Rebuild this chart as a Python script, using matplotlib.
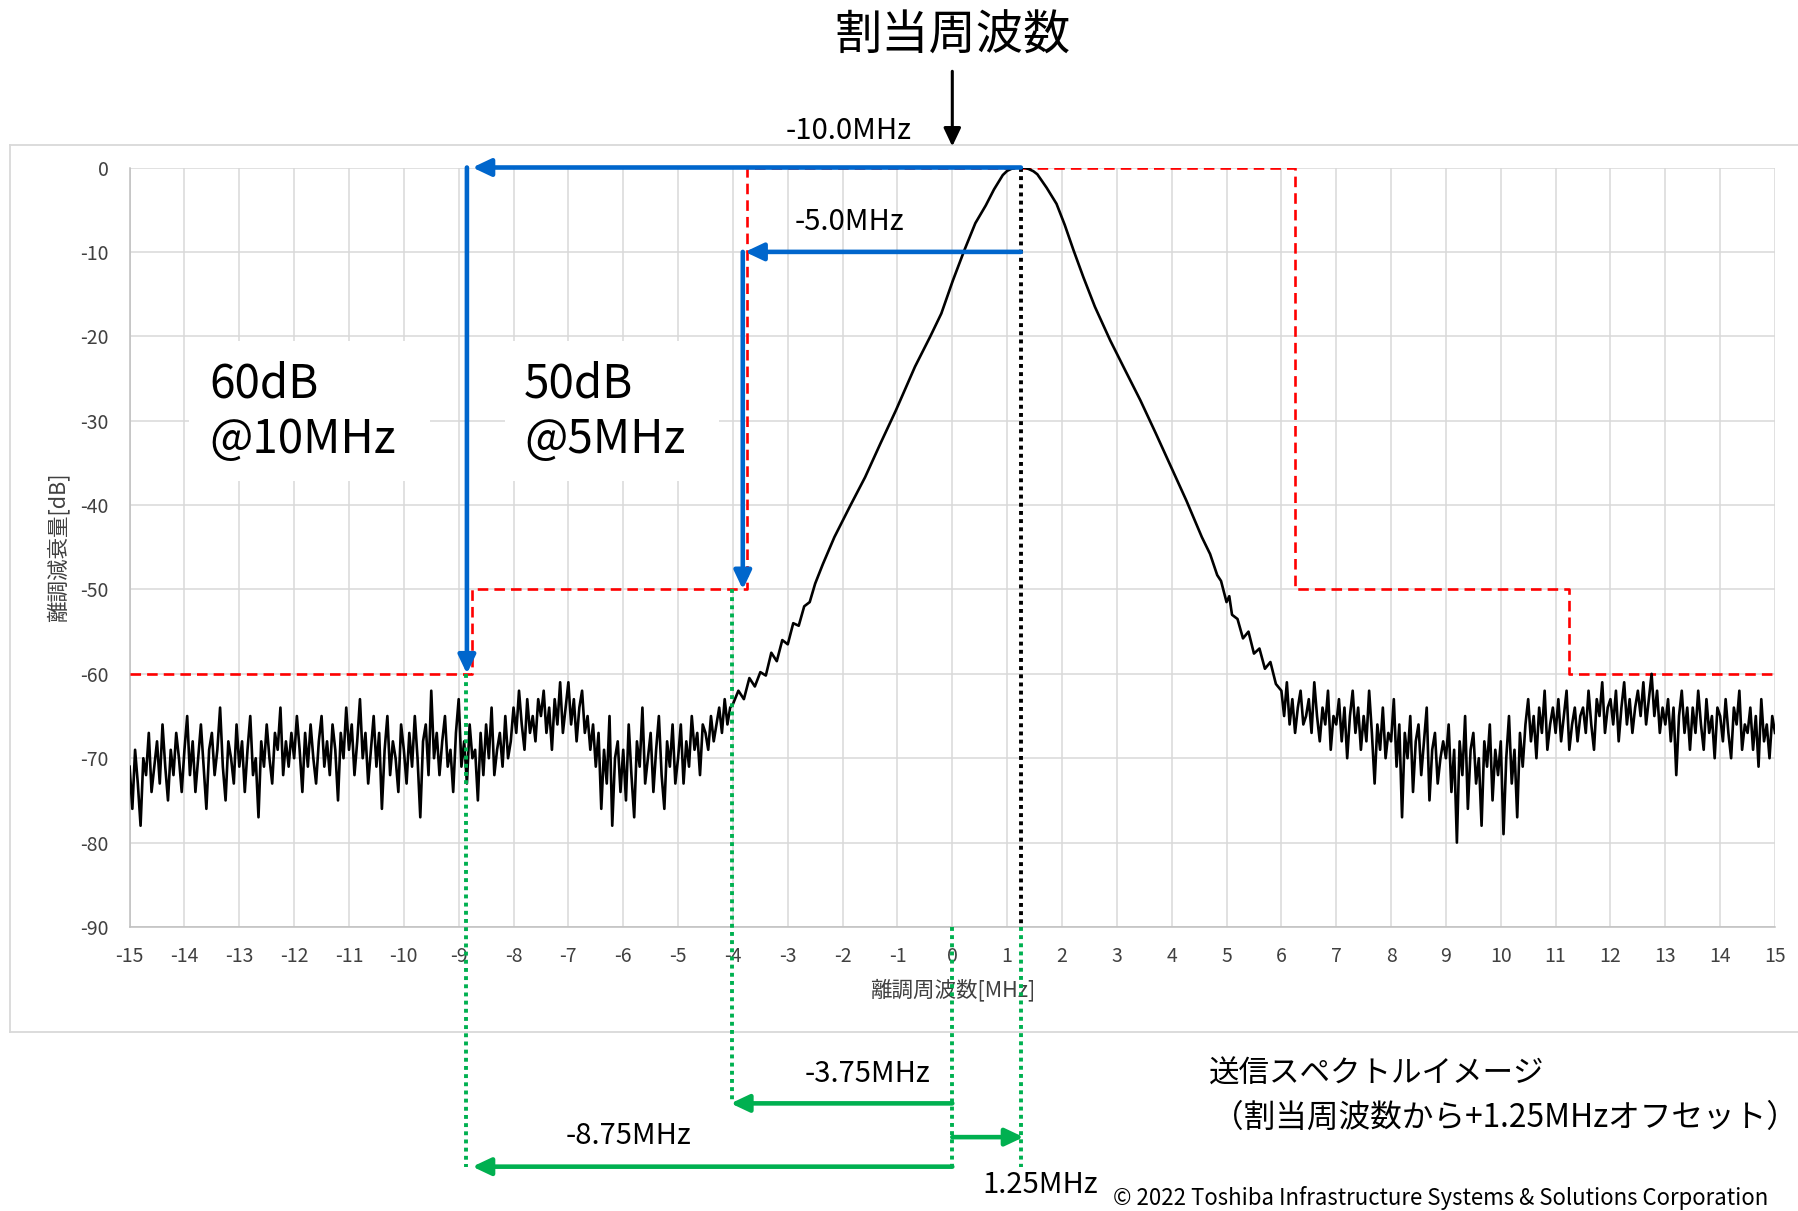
import numpy as np
import matplotlib.pyplot as plt
from matplotlib.patches import Rectangle
from matplotlib.lines import Line2D

plt.rcParams['font.family'] = ['Noto Sans CJK JP', 'DejaVu Sans']
plt.rcParams['axes.unicode_minus'] = False

# ---- data ----
# noise floor, left side: -15.00 .. -4.05 MHz, 0.05 MHz step (one row = 0.5 MHz)
noise_left = [
    -71, -76, -69, -73, -78, -70, -72, -67, -74, -71,
    -68, -73, -66, -71, -75, -69, -72, -67, -70, -74,
    -69, -65, -72, -68, -74, -70, -66, -71, -76, -69,
    -67, -72, -69, -64, -71, -75, -68, -70, -73, -66,
    -71, -68, -74, -69, -65, -72, -70, -77, -68, -71,
    -66, -70, -73, -67, -69, -64, -72, -68, -71, -67,
    -70, -65, -69, -74, -67, -71, -66, -70, -73, -68,
    -65, -71, -68, -72, -66, -69, -75, -67, -70, -64,
    -69, -66, -72, -68, -63, -70, -67, -73, -69, -65,
    -71, -67, -76, -69, -65, -72, -68, -70, -74, -66,
    -69, -73, -67, -71, -65, -70, -77, -68, -66, -72,
    -62, -70, -67, -72, -68, -65, -71, -69, -74, -67,
    -63, -71, -68, -73, -66, -70, -69, -75, -67, -72,
    -66, -70, -64, -72, -69, -67, -71, -65, -70, -68,
    -64, -67, -62, -66, -69, -63, -67, -65, -68, -63,
    -65, -62, -67, -64, -69, -63, -66, -61, -67, -64,
    -61, -66, -63, -68, -64, -62, -67, -65, -69, -66,
    -71, -67, -76, -69, -73, -65, -78, -70, -68, -74,
    -69, -75, -66, -72, -77, -68, -71, -64, -73, -70,
    -67, -74, -69, -65, -72, -76, -68, -71, -66, -73,
    -70, -66, -73, -68, -71, -65, -69, -67, -72, -66,
    -67, -69, -65, -68, -66, -64, -67, -63, -66, -64,
]
left_start, left_end = -15.0, -4.05

# main lobe (assigned frequency + 1.25 MHz)
flank_freq = [-4.00, -3.90, -3.80, -3.70, -3.60, -3.50, -3.40, -3.30, -3.20, -3.10,
              -3.00, -2.90, -2.80, -2.70, -2.60, -2.50, -2.36, -2.15, -1.87, -1.59,
              -1.31, -1.03, -0.68, -0.40, -0.20, 0.01, 0.22, 0.42, 0.61, 0.76,
              0.92, 1.00, 1.08, 1.16, 1.25, 1.33, 1.40, 1.48, 1.55, 1.72,
              1.90, 2.05, 2.21, 2.39, 2.60, 2.88, 3.15, 3.43, 3.71, 3.99,
              4.27, 4.55, 4.70, 4.83, 4.90, 5.00, 5.05, 5.10, 5.20, 5.30,
              5.40, 5.50, 5.60, 5.70, 5.80, 5.90]
flank_level = [-63.6, -62.0, -63.0, -60.5, -61.5, -59.8, -60.2, -57.5, -58.5, -56.0,
               -56.5, -54.0, -54.3, -52.0, -51.5, -49.3, -47.0, -43.8, -40.2, -36.7,
               -32.7, -28.8, -23.6, -20.0, -17.3, -13.4, -9.8, -6.6, -4.5, -2.6,
               -0.9, -0.4, -0.15, -0.03, 0.0, -0.04, -0.2, -0.45, -0.8, -2.4,
               -4.3, -6.8, -9.8, -13.0, -16.5, -20.5, -24.0, -27.6, -31.5, -35.5,
               -39.5, -43.8, -45.8, -48.3, -49.0, -51.5, -50.8, -53.0, -53.5, -55.8,
               -55.0, -57.6, -57.0, -59.4, -58.6, -61.2]

# noise floor, right side: 6.00 .. 15.00 MHz, 0.05 MHz step
noise_right = [
    -62, -65, -61, -66, -63, -67, -64, -62, -66, -65,
    -63, -67, -61, -65, -68, -64, -66, -62, -69, -65,
    -66, -63, -68, -64, -70, -65, -62, -67, -64, -69,
    -65, -68, -62, -67, -73, -66, -69, -64, -70, -67,
    -68, -63, -71, -66, -77, -67, -70, -65, -74, -68,
    -66, -72, -68, -64, -75, -69, -67, -73, -70, -68,
    -70, -66, -74, -69, -80, -68, -72, -65, -76, -69,
    -67, -73, -70, -78, -68, -71, -66, -75, -69, -72,
    -68, -79, -70, -65, -73, -69, -77, -67, -71, -66,
    -63, -68, -65, -70, -64, -67, -62, -69, -66, -64,
    -67, -63, -68, -65, -62, -69, -66, -64, -68, -65,
    -64, -67, -62, -66, -69, -63, -65, -61, -67, -64,
    -63, -66, -62, -68, -64, -61, -66, -63, -67, -64,
    -62, -65, -61, -66, -63, -60, -65, -62, -67, -64,
    -66, -63, -68, -64, -72, -65, -62, -67, -64, -69,
    -64, -67, -62, -66, -69, -63, -67, -65, -70, -64,
    -65, -68, -63, -67, -70, -64, -66, -62, -69, -66,
    -67, -64, -69, -65, -71, -63, -68, -66, -70, -65,
    -67,
]
right_start, right_end = 6.0, 15.0

# spectrum mask (red dashed)
mask_freq = [-15, -8.75, -8.75, -3.75, -3.75, 6.25, 6.25, 11.25, 11.25, 15]
mask_level = [-60, -60, -50, -50, 0, 0, -50, -50, -60, -60]

x_ticks = list(range(-15, 16))
y_ticks = list(range(-90, 1, 10))

BLUE = '#0066CC'
GREEN = '#00B050'
W, H = 1799, 1211


def fx(px):
    return px / W


def fy(py):
    return 1 - py / H


freq = np.concatenate([np.linspace(left_start, left_end, len(noise_left)),
                       flank_freq,
                       np.linspace(right_start, right_end, len(noise_right))])
level = np.concatenate([noise_left, flank_level, noise_right])

fig = plt.figure(figsize=(W / 100, H / 100), dpi=100)
ax = fig.add_axes([fx(129.6), fy(927), fx(1775) - fx(129.6), fy(167.5) - fy(927)])

# chart frame
for xs, ys in [([fx(10), 1.0], [fy(145), fy(145)]),
               ([fx(10), 1.0], [fy(1032), fy(1032)]),
               ([fx(10), fx(10)], [fy(145), fy(1032)])]:
    fig.add_artist(Line2D(xs, ys, transform=fig.transFigure, color='#d9d9d9', lw=1.3, zorder=0))

ax.set_xlim(-15, 15)
ax.set_ylim(-90, 0)
ax.set_xticks(x_ticks)
ax.set_yticks(y_ticks)
ax.set_axisbelow(True)
ax.grid(color='#d9d9d9', lw=1.1)
ax.tick_params(length=0, labelsize=14, colors='#404040')
ax.tick_params(axis='x', pad=14)
ax.tick_params(axis='y', pad=15)
for s in ['top', 'right']:
    ax.spines[s].set_visible(False)
for s in ['left', 'bottom']:
    ax.spines[s].set_color('#bfbfbf')
    ax.spines[s].set_linewidth(1.1)
ax.set_xlabel('離調周波数[MHz]', fontsize=15.5, color='#404040', labelpad=8)
ax.set_ylabel('離調減衰量[dB]', fontsize=15.5, color='#404040', labelpad=8)

# white boxes behind the labels
ax.add_patch(Rectangle((-13.92, -37.1), 4.4, 16.5, facecolor='white', edgecolor='none', zorder=1.5))
ax.add_patch(Rectangle((-8.16, -37.1), 3.91, 16.5, facecolor='white', edgecolor='none', zorder=1.5))
ax.text(-13.55, -25.7, '60dB', fontsize=33, va='center', ha='left', zorder=2)
ax.text(-13.55, -32.3, '@10MHz', fontsize=33, va='center', ha='left', zorder=2)
ax.text(-7.81, -25.7, '50dB', fontsize=33, va='center', ha='left', zorder=2)
ax.text(-7.81, -32.3, '@5MHz', fontsize=33, va='center', ha='left', zorder=2)

ax.plot(mask_freq, mask_level, color='red', lw=1.9, dashes=(4, 2.3), zorder=3)
ax.plot(freq, level, color='black', lw=1.9, zorder=4)

# dotted markers
ax.plot([1.25, 1.25], [0, -90], color='black', lw=2.8, ls=(0, (1, 1.1)), zorder=5)
green_lines = [(-8.87, -60, -118.4), (-4.02, -50, -110.9), (0.0, -90, -118.4), (1.25, -90, -118.4)]
for gx, y1, y2 in green_lines:
    ax.plot([gx, gx], [y1, y2], color=GREEN, lw=2.8, ls=(0, (1, 1.1)), zorder=5, clip_on=False)


def arrow(start, tip, color, lw):
    ax.annotate('', xy=tip, xytext=start, annotation_clip=False, zorder=6,
                arrowprops=dict(arrowstyle='-|>,head_length=0.55,head_width=0.26',
                                color=color, lw=lw, shrinkA=0, shrinkB=0, mutation_scale=20))


# blue arrows
arrow((1.25, 0), (-8.75, 0), BLUE, 3.3)
arrow((-8.85, 0), (-8.85, -60), BLUE, 3.3)
arrow((1.25, -10), (-3.78, -10), BLUE, 3.3)
arrow((-3.82, -10), (-3.82, -50), BLUE, 3.3)

# green arrows
arrow((0.0, -110.9), (-4.04, -110.9), GREEN, 3.3)
arrow((0.0, -118.4), (-8.75, -118.4), GREEN, 3.3)
arrow((0.0, -114.9), (1.30, -114.9), GREEN, 3.3)

# assigned frequency arrow
arrow((0.0, 11.4), (0.0, 2.5), 'black', 2.2)

fig.text(fx(953), fy(36), '割当周波数', fontsize=34, ha='center', va='center')
fig.text(fx(849), fy(131), '-10.0MHz', fontsize=21, ha='center', va='center')
fig.text(fx(849), fy(222), '-5.0MHz', fontsize=21, ha='center', va='center')
fig.text(fx(868), fy(1074), '-3.75MHz', fontsize=21, ha='center', va='center')
fig.text(fx(629), fy(1136), '-8.75MHz', fontsize=21, ha='center', va='center')
fig.text(fx(1040), fy(1185), '1.25MHz', fontsize=21, ha='center', va='center')
fig.text(fx(1209), fy(1074), '送信スペクトルイメージ', fontsize=22, ha='left', va='center')
fig.text(fx(1212), fy(1118), '（割当周波数から+1.25MHzオフセット）', fontsize=22.8, ha='left', va='center')
fig.text(fx(1113), fy(1198), '© 2022 Toshiba Infrastructure Systems & Solutions Corporation',
         fontsize=16, ha='left', va='center')

fig.savefig('out.png', dpi=100)
